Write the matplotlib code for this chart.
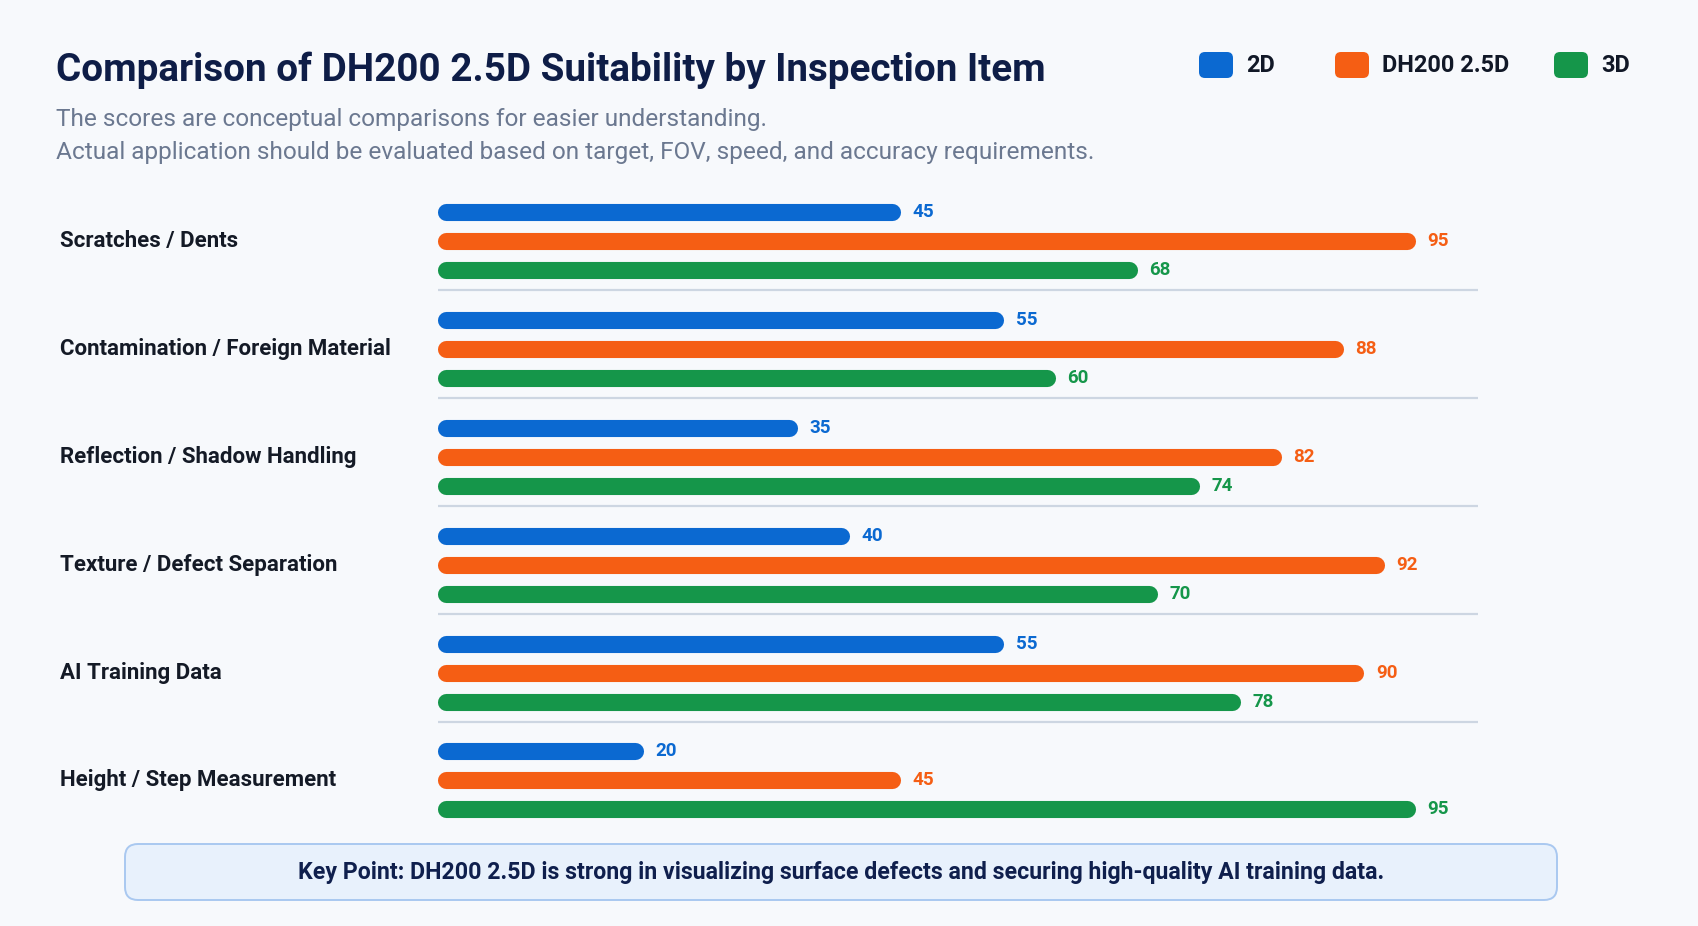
import matplotlib
matplotlib.use("Agg")
import matplotlib.pyplot as plt
from matplotlib.patches import FancyBboxPatch
from matplotlib.transforms import blended_transform_factory

plt.rcParams['font.family'] = ['Roboto', 'DejaVu Sans']

# data
categories = ["Scratches / Dents", "Contamination / Foreign Material",
              "Reflection / Shadow Handling", "Texture / Defect Separation",
              "AI Training Data", "Height / Step Measurement"]
series_names = ["2D", "DH200 2.5D", "3D"]
scores_2d = [45, 55, 35, 40, 55, 20]
scores_25d = [95, 88, 82, 92, 90, 45]
scores_3d = [68, 60, 74, 70, 78, 95]

title = "Comparison of DH200 2.5D Suitability by Inspection Item"
subtitle = ["The scores are conceptual comparisons for easier understanding.",
            "Actual application should be evaluated based on target, FOV, speed, and accuracy requirements."]
key_point = "Key Point: DH200 2.5D is strong in visualizing surface defects and securing high-quality AI training data."

colors = ["#0b69d1", "#f55e14", "#15964a"]
bg = "#f7f9fc"

W, H = 1698, 926
fig = plt.figure(figsize=(W / 100, H / 100), dpi=100, facecolor=bg)
canvas = fig.add_axes([0, 0, 1, 1])
canvas.set_xlim(0, W)
canvas.set_ylim(H, 0)
canvas.axis("off")
r = fig.canvas.get_renderer()


def fit(t, width):
    # scale font so the text spans the wanted width in pixels
    bb = t.get_window_extent(r)
    t.set_fontsize(t.get_fontsize() * width / bb.width)


# header
t = canvas.text(56, 70, title, fontsize=28, weight="bold", color="#0e1d47", va="center")
fit(t, 990)
t1 = canvas.text(56, 119.5, subtitle[0], fontsize=17, color="#6b7890", va="center")
t2 = canvas.text(56, 152.5, subtitle[1], fontsize=17, color="#6b7890", va="center")
fit(t2, 1043)
t1.set_fontsize(t2.get_fontsize())

# legend
leg_x = [1199, 1335, 1554]
leg_texts = []
for i, name in enumerate(series_names):
    canvas.add_patch(FancyBboxPatch((leg_x[i] + 4, 56), 26, 18,
                                    boxstyle="round,pad=4,rounding_size=6",
                                    fc=colors[i], ec="none"))
    leg_texts.append(canvas.text(leg_x[i] + 47, 66, name, fontsize=15, weight="bold",
                                 color="#111827", va="center"))
fit(leg_texts[1], 128)
for txt in leg_texts:
    txt.set_fontsize(leg_texts[1].get_fontsize())

# bars
ax = fig.add_axes([437.5 / W, 1 - 839.8 / H, 1040.5 / W, (839.8 - 176.3) / H])
ax.set_xlim(0, 101.1)
ax.set_ylim(5.55, -0.6)
ax.axis("off")
px = 101.1 / 1040.5          # data units per pixel
cap = 8.5 * px
offsets = [-0.269, 0, 0.269]
all_scores = [scores_2d, scores_25d, scores_3d]
for s, vals in enumerate(all_scores):
    for k, v in enumerate(vals):
        y = k + offsets[s]
        ln = ax.hlines(y, cap, v - cap, colors=colors[s], linewidth=12.3)
        ln.set_capstyle("round")
        ax.text(v + 12 * px, y, str(v), color=colors[s], fontsize=13.5,
                weight="bold", va="center", ha="left")

for k in range(len(categories) - 1):
    ax.hlines(k + 0.455, 0, 101.1, colors="#cdd6e2", linewidth=1.6)

lab_tr = blended_transform_factory(canvas.transData, ax.transData)
labs = []
for k, c in enumerate(categories):
    labs.append(ax.text(60, k, c, transform=lab_tr, fontsize=17, weight="bold",
                        color="#141a26", va="center", ha="left"))
fit(labs[1], 331)
for lb in labs:
    lb.set_fontsize(labs[1].get_fontsize())

# key point box
canvas.add_patch(FancyBboxPatch((125, 844), 1432, 56,
                                boxstyle="round,pad=0,rounding_size=13",
                                fc="#e8f1fc", ec="#a9c8f0", lw=1.4))
kt = canvas.text(841, 872, key_point, fontsize=17, weight="bold", color="#0f1f4d",
                 va="center", ha="center")
fit(kt, 1088)

fig.savefig("out.png", facecolor=bg)
